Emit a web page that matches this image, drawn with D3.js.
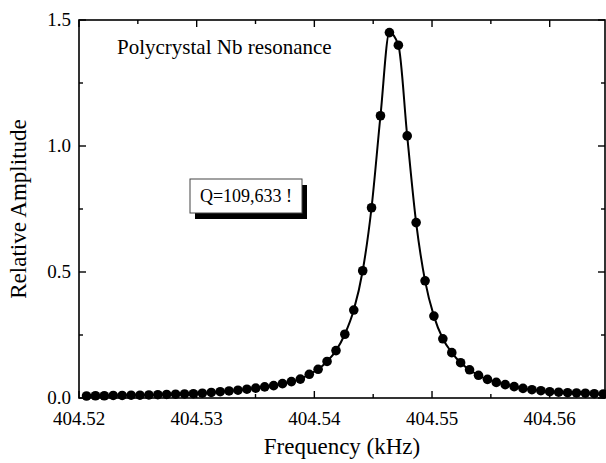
<!DOCTYPE html>
<html>
<head>
<meta charset="utf-8">
<script src="https://cdn.jsdelivr.net/npm/d3@7"></script>
<style>
  body { margin: 0; background: #fff; }
  svg text { font-family: "Liberation Serif", "Times New Roman", "DejaVu Serif", serif; }
</style>
</head>
<body>
<div id="chart"></div>
<script>
const freqs = [
  404.52064, 404.52140, 404.52215, 404.52291, 404.52367, 404.52443, 404.52518, 404.52594,
  404.52670, 404.52745, 404.52821, 404.52897, 404.52972, 404.53048, 404.53124, 404.53200,
  404.53275, 404.53351, 404.53427, 404.53502, 404.53578, 404.53654, 404.53729, 404.53805,
  404.53881, 404.53957, 404.54032, 404.54108, 404.54184, 404.54259, 404.54335, 404.54411,
  404.54486, 404.54562, 404.54638, 404.54714, 404.54789, 404.54865, 404.54941, 404.55016,
  404.55092, 404.55168, 404.55243, 404.55319, 404.55395, 404.55471, 404.55546, 404.55622,
  404.55698, 404.55773, 404.55849, 404.55925, 404.56000, 404.56076, 404.56152, 404.56228,
  404.56303, 404.56379, 404.56455
];
// relative amplitude at each point
const amps = [
  0.008, 0.009, 0.009, 0.010, 0.010, 0.011, 0.011, 0.012,
  0.013, 0.014, 0.015, 0.016, 0.017, 0.019, 0.022, 0.025,
  0.028, 0.031, 0.035, 0.039, 0.044, 0.049, 0.057, 0.065,
  0.075, 0.094, 0.114, 0.145, 0.188, 0.253, 0.349, 0.505,
  0.755, 1.12, 1.45, 1.40, 1.04, 0.696, 0.465, 0.325,
  0.235, 0.180, 0.140, 0.112, 0.090, 0.074, 0.062, 0.053,
  0.045, 0.038, 0.033, 0.029, 0.025, 0.023, 0.021, 0.020,
  0.019, 0.017, 0.016
];
const xTicks = [404.52, 404.53, 404.54, 404.55, 404.56];
const xMinorTicks = [404.525, 404.535, 404.545, 404.555];
const yTicks = [0.0, 0.5, 1.0, 1.5];
const yMinorTicks = [0.25, 0.75, 1.25];
const title = "Polycrystal Nb resonance";
const note = "Q=109,633 !";
const xLabel = "Frequency (kHz)";
const yLabel = "Relative Amplitude";

const data = freqs.map((f, i) => ({f: f, a: amps[i]}));

const W = 606, H = 463;
const margin = {top: 20, right: 1, bottom: 65, left: 79};
const w = W - margin.left - margin.right;
const h = H - margin.top - margin.bottom;

const x = d3.scaleLinear().domain([404.52, 404.5647]).range([0, w]);
const y = d3.scaleLinear().domain([0, 1.5]).range([h, 0]);

const svg = d3.select('#chart').append('svg')
  .attr('width', W).attr('height', H);
const g = svg.append('g')
  .attr('transform', 'translate(' + margin.left + ',' + margin.top + ')');

// frame
g.append('rect')
  .attr('width', w).attr('height', h)
  .attr('fill', 'none').attr('stroke', '#000').attr('stroke-width', 1.6);

// inward ticks on all four sides
const tk = g.append('g').attr('stroke', '#000').attr('stroke-width', 1.4);
const major = 7, minor = 4;
xTicks.concat(xMinorTicks).forEach(t => {
  const len = xTicks.includes(t) ? major : minor;
  tk.append('line').attr('x1', x(t)).attr('x2', x(t)).attr('y1', h).attr('y2', h - len);
  tk.append('line').attr('x1', x(t)).attr('x2', x(t)).attr('y1', 0).attr('y2', len);
});
yTicks.concat(yMinorTicks).forEach(t => {
  const len = yTicks.includes(t) ? major : minor;
  tk.append('line').attr('y1', y(t)).attr('y2', y(t)).attr('x1', 0).attr('x2', len);
  tk.append('line').attr('y1', y(t)).attr('y2', y(t)).attr('x1', w).attr('x2', w - len);
});

// tick labels
g.selectAll('.xt').data(xTicks).enter().append('text')
  .attr('x', d => x(d)).attr('y', h + 27)
  .attr('text-anchor', 'middle').attr('font-size', 19)
  .text(d3.format('.2f'));
g.selectAll('.yt').data(yTicks).enter().append('text')
  .attr('x', -8).attr('y', d => y(d)).attr('dy', '0.3em')
  .attr('text-anchor', 'end').attr('font-size', 19)
  .text(d3.format('.1f'));

// axis titles
g.append('text')
  .attr('x', w / 2).attr('y', h + 56)
  .attr('text-anchor', 'middle').attr('font-size', 23)
  .text(xLabel);
g.append('text')
  .attr('transform', 'translate(' + (-53) + ',' + (h / 2) + ') rotate(-90)')
  .attr('text-anchor', 'middle').attr('font-size', 23)
  .text(yLabel);

// curve and points
const line = d3.line().x(d => x(d.f)).y(d => y(d.a)).curve(d3.curveMonotoneX);
g.append('path').datum(data)
  .attr('d', line)
  .attr('fill', 'none').attr('stroke', '#000').attr('stroke-width', 2);
g.append('g').selectAll('circle').data(data).enter().append('circle')
  .attr('cx', d => x(d.f)).attr('cy', d => y(d.a))
  .attr('r', 4.8).attr('fill', '#000');

// annotations
g.append('text')
  .attr('x', 38).attr('y', 34)
  .attr('font-size', 21)
  .text(title);

const bx = 111, by = 159, bw = 112, bh = 34;
g.append('rect').attr('x', bx + 5).attr('y', by + 6).attr('width', bw).attr('height', bh)
  .attr('fill', '#000');
g.append('rect').attr('x', bx).attr('y', by).attr('width', bw).attr('height', bh)
  .attr('fill', '#fff').attr('stroke', '#444').attr('stroke-width', 1);
g.append('text')
  .attr('x', bx + bw / 2).attr('y', by + 23)
  .attr('text-anchor', 'middle').attr('font-size', 18)
  .text(note);
</script>
</body>
</html>
